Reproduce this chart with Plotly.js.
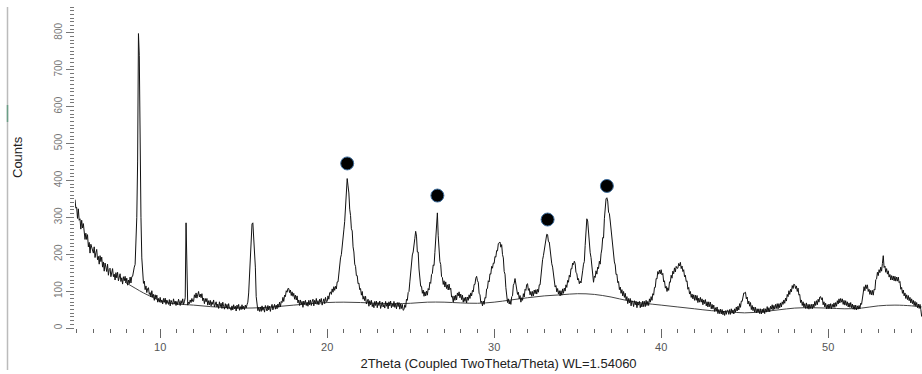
<!DOCTYPE html>
<html>
<head>
<meta charset="utf-8">
<script src="https://cdn.plot.ly/plotly-3.0.1.min.js"></script>
<style>
html,body{margin:0;padding:0;background:#fff;}
#chart{width:922px;height:374px;}
</style>
</head>
<body>
<div id="chart"></div>
<script>
// Scan grid: 2Theta from 4.90 to 55.60 deg, step 0.05 deg
const twoThetaStart = 4.9;
const twoThetaStep = 0.05;

const counts = [
  348, 325,                                                                                      // 4.90-4.95
  327, 297, 323, 292, 296, 268, 292, 271, 283, 251, 240, 257, 240, 253, 220, 232, 203, 227, 217, 204,   // 5
  203, 220, 191, 204, 213, 185, 194, 173, 196, 180, 192, 165, 179, 154, 176, 165, 153, 173, 143, 159,   // 6
  162, 139, 152, 161, 139, 146, 130, 150, 136, 151, 128, 142, 147, 126, 136, 119, 139, 128, 140, 123,   // 7
  135, 116, 130, 120, 138, 122, 139, 140, 161, 165, 172, 230, 300, 450, 798, 738, 430, 300, 190, 140,   // 8
  121, 127, 104, 114, 96, 107, 109, 91, 96, 84, 101, 84, 91, 75, 90, 79, 89, 70, 80, 70,                // 9
  83, 69, 76, 65, 80, 70, 81, 64, 76, 70, 64, 77, 60, 75, 71, 64, 79, 66, 73, 61,                       // 10
  72, 63, 78, 68, 61, 74, 66, 79, 64, 71, 82, 285, 100, 62, 70, 66, 76, 69, 80, 72,                     // 11
  72, 90, 82, 95, 81, 96, 99, 84, 92, 82, 93, 74, 81, 66, 80, 71, 80, 62, 74, 63,                       // 12
  75, 60, 71, 64, 76, 57, 67, 71, 57, 65, 53, 71, 58, 67, 53, 70, 58, 51, 66, 54,                       // 13
  64, 51, 66, 53, 54, 48, 60, 49, 63, 52, 59, 46, 62, 53, 64, 48, 58, 50, 63, 51,                       // 14
  59, 50, 62, 54, 63, 70, 95, 140, 200, 250, 282, 285, 250, 205, 165, 85, 55, 47, 56, 45,               // 15
  57, 45, 60, 48, 55, 43, 61, 50, 46, 61, 49, 59, 45, 57, 64, 49, 57, 64, 51, 62,                       // 16
  52, 65, 56, 70, 57, 72, 69, 83, 72, 89, 85, 101, 97, 107, 107, 96, 103, 88, 98, 86,                   // 17
  94, 78, 89, 76, 87, 68, 76, 61, 76, 64, 72, 56, 73, 64, 75, 61, 70, 59, 75, 63,                       // 18
  76, 61, 71, 78, 60, 75, 66, 80, 64, 74, 63, 78, 70, 80, 62, 76, 79, 66, 83, 72,                       // 19
  72, 87, 78, 95, 98, 91, 106, 97, 112, 102, 113, 106, 125, 125, 151, 161, 190, 199, 229, 242,          // 20
  266, 289, 340, 375, 405, 385, 366, 322, 305, 269, 263, 220, 206, 173, 167, 142, 142, 120, 122, 104,   // 21
  107, 89, 99, 78, 86, 74, 86, 65, 75, 78, 59, 74, 63, 75, 58, 67, 55, 72, 61, 73,                      // 22
  55, 69, 61, 73, 53, 67, 70, 57, 64, 54, 72, 59, 68, 52, 71, 60, 73, 55, 65, 58,                       // 23
  72, 56, 66, 52, 69, 58, 69, 51, 65, 53, 64, 48, 50, 63, 56, 78, 75, 96, 99, 125,                      // 24
  155, 166, 198, 206, 236, 243, 262, 249, 206, 206, 160, 141, 113, 113, 94, 103, 86, 98, 87, 100,       // 25
  89, 107, 103, 124, 121, 145, 148, 171, 169, 204, 235, 285, 312, 250, 211, 180, 172, 139, 137, 118,    // 26
  128, 111, 125, 107, 117, 103, 119, 104, 108, 84, 86, 70, 87, 75, 89, 76, 95, 87, 98, 82,              // 27
  92, 77, 89, 70, 82, 72, 84, 68, 84, 75, 90, 80, 95, 87, 102, 98, 118, 118, 135, 140,                  // 28
  128, 124, 93, 91, 69, 73, 60, 73, 64, 83, 81, 106, 107, 128, 125, 147, 146, 167, 162, 176,            // 29
  175, 194, 192, 210, 209, 229, 231, 233, 219, 226, 199, 190, 153, 146, 110, 91, 69, 79, 65, 74,        // 30
  64, 85, 87, 116, 121, 134, 116, 114, 91, 97, 79, 88, 70, 82, 75, 93, 84, 105, 102, 118,               // 31
  120, 102, 107, 90, 99, 86, 99, 87, 103, 93, 104, 92, 105, 97, 117, 117, 144, 154, 185, 196,           // 32
  210, 236, 239, 254, 253, 234, 233, 210, 206, 174, 165, 140, 136, 111, 115, 98, 107, 92, 101, 87,      // 33
  101, 89, 106, 94, 108, 100, 117, 110, 129, 124, 143, 138, 161, 160, 176, 172, 181, 175, 150, 148,     // 34
  130, 134, 120, 127, 122, 150, 155, 173, 180, 224, 259, 296, 290, 256, 245, 204, 191, 162, 151, 124,   // 35
  141, 137, 155, 146, 165, 161, 181, 173, 201, 214, 245, 244, 296, 325, 350, 353, 344, 314, 310, 290,   // 36
  265, 251, 214, 209, 179, 171, 145, 146, 123, 126, 104, 111, 94, 104, 87, 99, 83, 94, 76, 85,          // 37
  66, 80, 68, 80, 60, 74, 70, 58, 74, 63, 72, 55, 70, 62, 72, 55, 67, 57, 73, 58,                       // 38
  72, 58, 75, 61, 72, 61, 79, 70, 85, 75, 93, 89, 110, 110, 134, 133, 153, 146, 157, 147,               // 39
  158, 144, 148, 125, 128, 108, 113, 99, 109, 102, 125, 124, 143, 135, 154, 147, 163, 152, 167, 162,    // 40
  162, 175, 168, 178, 161, 168, 153, 158, 139, 143, 126, 128, 105, 110, 92, 99, 83, 92, 79, 90,         // 41
  75, 89, 75, 88, 69, 81, 70, 83, 70, 79, 63, 76, 66, 77, 60, 71, 57, 71, 58, 70,                       // 42
  52, 64, 52, 62, 45, 55, 46, 57, 39, 50, 39, 51, 38, 50, 36, 46, 34, 47, 37, 48,                       // 43
  48, 37, 50, 37, 52, 40, 49, 38, 52, 43, 57, 46, 59, 49, 66, 56, 73, 72, 88, 95,                       // 44
  95, 97, 79, 84, 65, 73, 59, 69, 50, 61, 47, 57, 43, 56, 41, 52, 42, 52, 39, 52,                       // 45
  38, 51, 41, 53, 39, 52, 43, 58, 44, 55, 44, 59, 51, 63, 49, 61, 51, 64, 53, 66,                       // 46
  52, 66, 55, 68, 57, 71, 64, 76, 67, 81, 73, 91, 85, 101, 91, 105, 98, 115, 107, 119,                  // 47
  117, 107, 114, 99, 108, 89, 91, 69, 76, 61, 71, 56, 66, 53, 68, 53, 64, 51, 64, 53,                   // 48
  64, 52, 65, 56, 72, 61, 74, 63, 78, 70, 84, 85, 77, 82, 63, 71, 57, 67, 52, 63,                       // 49
  52, 65, 53, 66, 52, 64, 56, 68, 56, 69, 59, 74, 65, 79, 68, 80, 70, 79, 64, 75,                       // 50
  62, 74, 61, 71, 57, 68, 56, 69, 55, 65, 51, 62, 50, 62, 49, 60, 51, 61, 52, 67,                       // 51
  64, 92, 95, 112, 101, 117, 107, 117, 99, 105, 91, 102, 90, 102, 89, 105, 103, 131, 133, 151,          // 52
  142, 158, 150, 165, 154, 175, 196, 164, 168, 151, 161, 146, 155, 138, 145, 130, 142, 130, 141, 128,   // 53
  140, 127, 138, 127, 138, 123, 126, 105, 110, 94, 103, 87, 95, 80, 90, 77, 88, 74, 83, 68,             // 54
  79, 66, 75, 61, 72, 59, 69, 55, 65, 53, 64, 50, 31                                                    // 55.00-55.60
];

// Fitted background curve
const bgTheta  = [7.9, 8.5, 9, 9.5, 10, 10.5, 11, 12, 13, 14, 15, 16, 17, 18, 19, 20, 21, 22, 23, 24, 25, 26, 27, 28, 29, 30, 31, 32, 33, 34, 35, 36, 37, 38, 39, 40, 41, 42, 43, 44, 45, 46, 47, 48, 49, 50, 51, 52, 53, 54, 55, 55.6];
const bgCounts = [124, 108, 95, 84, 74, 68, 65, 62, 58, 55, 54, 55, 58, 62, 66, 69, 70, 69, 67, 66, 67, 70, 70, 68, 67, 70, 76, 82, 87, 90, 93, 91, 84, 74, 67, 62, 57, 52, 47, 44, 41, 44, 49, 54, 55, 54, 52, 54, 60, 62, 60, 57];

// Marked phase peaks (dots)
const markTheta  = [21.2, 26.6, 33.2, 36.75];
const markCounts = [446, 359, 294, 385];

const xTitle = "2Theta (Coupled TwoTheta/Theta) WL=1.54060";
const yTitle = "Counts";

const theta = counts.map((_, i) => +(twoThetaStart + i * twoThetaStep).toFixed(2));

const W = 922, H = 374;
const margin = {l: 75, r: 0, t: 7, b: 46};
const pw = W - margin.l - margin.r;
const ph = H - margin.t - margin.b;
const px2paperX = p => (p - margin.l) / pw;
const py2paperY = p => (H - margin.b - p) / ph;

const traces = [
  {
    x: bgTheta, y: bgCounts, type: 'scatter', mode: 'lines',
    line: {color: '#444', width: 1, shape: 'spline', smoothing: 1},
    hoverinfo: 'skip'
  },
  {
    x: theta, y: counts, type: 'scatter', mode: 'lines',
    line: {color: '#111', width: 1}
  },
  {
    x: markTheta, y: markCounts, type: 'scatter', mode: 'markers',
    marker: {color: '#000', size: 13, line: {color: '#3f6f9f', width: 1}}
  }
];

const font = 'Liberation Sans, Arial, sans-serif';
const layout = {
  width: W, height: H,
  margin: margin,
  paper_bgcolor: '#fff', plot_bgcolor: '#fff',
  showlegend: false,
  font: {family: font},
  xaxis: {
    range: [4.9, 55.62], tick0: 0, dtick: 10,
    ticks: 'outside', ticklen: 9, tickwidth: 1, tickcolor: '#666',
    minor: {dtick: 1, ticks: 'outside', ticklen: 4, tickwidth: 1, tickcolor: '#666'},
    showgrid: false, zeroline: false, showline: false,
    tickfont: {family: font, size: 11, color: '#555'},
    title: {text: xTitle, font: {family: font, size: 13, color: '#222'}, standoff: 6}
  },
  yaxis: {
    range: [0, 870], tick0: 0, dtick: 100,
    ticks: 'outside', ticklen: 8, tickwidth: 1, tickcolor: '#777',
    minor: {dtick: 10, ticks: 'outside', ticklen: 4, tickwidth: 1, tickcolor: '#777'},
    showgrid: false, zeroline: false, showline: false,
    tickangle: -90,
    tickfont: {family: font, size: 10, color: '#777'}
  },
  annotations: [{
    text: yTitle, xref: 'paper', yref: 'paper',
    x: px2paperX(17), y: py2paperY(157), xanchor: 'center', yanchor: 'middle',
    textangle: -90, showarrow: false,
    font: {family: font, size: 13, color: '#222'}
  }],
  shapes: [
    {type: 'line', xref: 'paper', yref: 'paper',
     x0: px2paperX(7.5), x1: px2paperX(7.5), y0: py2paperY(7), y1: py2paperY(370),
     line: {color: '#bbb', width: 1.5}},
    {type: 'line', xref: 'paper', yref: 'paper',
     x0: px2paperX(7.5), x1: px2paperX(7.5), y0: py2paperY(105), y1: py2paperY(122),
     line: {color: '#6a9e86', width: 1.5}}
  ]
};

Plotly.newPlot('chart', traces, layout, {staticPlot: true, displayModeBar: false});
</script>
</body>
</html>
